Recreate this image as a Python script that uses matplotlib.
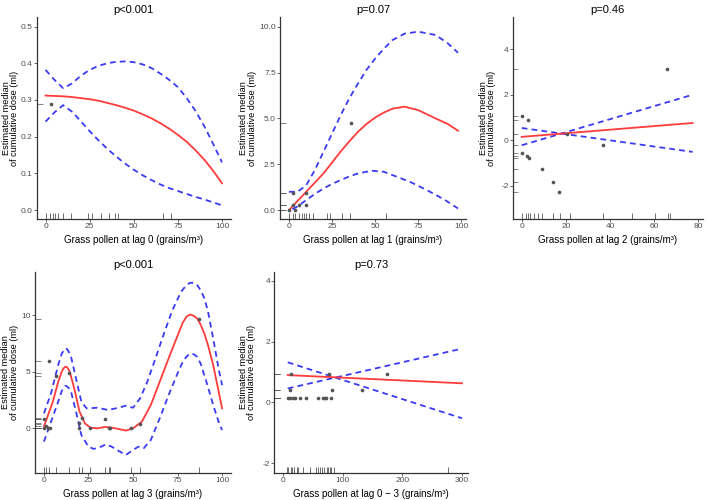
import numpy as np
import matplotlib
matplotlib.use("Agg")
import matplotlib.pyplot as plt

plt.rcParams['font.family'] = ['Liberation Sans', 'DejaVu Sans']

# ---- panel 1: lag 0 ----
lag0_x = [0, 5, 10, 15, 20, 25, 30, 35, 40, 45, 50, 55, 60, 65, 70, 75, 80, 85, 90, 95, 100]
lag0_fit = [0.312, 0.311, 0.310, 0.308, 0.305, 0.302, 0.298, 0.292, 0.286, 0.279, 0.271,
            0.261, 0.250, 0.237, 0.222, 0.205, 0.186, 0.163, 0.137, 0.107, 0.073]
lag0_up = [0.382, 0.355, 0.332, 0.345, 0.366, 0.382, 0.393, 0.400, 0.404, 0.405, 0.403,
           0.397, 0.387, 0.372, 0.355, 0.335, 0.305, 0.270, 0.228, 0.180, 0.130]
lag0_lo = [0.241, 0.266, 0.286, 0.268, 0.242, 0.215, 0.190, 0.167, 0.146, 0.127, 0.110,
           0.095, 0.082, 0.070, 0.060, 0.052, 0.044, 0.036, 0.029, 0.021, 0.013]
lag0_pts_x = [3]
lag0_pts_y = [0.288]
lag0_rug_x = [0, 2.5, 4, 5.5, 7.2, 9.7, 14.4, 24.2, 26.1, 31.2, 36.2, 39.4, 41.3, 66.3, 71.2]

# ---- panel 2: lag 1 ----
lag1_x = [0, 5, 10, 15, 20, 25, 30, 35, 40, 45, 50, 55, 60, 67, 75, 85, 92, 98]
lag1_fit = [0.0, 0.5, 1.0, 1.5, 2.0, 2.6, 3.2, 3.75, 4.27, 4.7, 5.05, 5.32, 5.53, 5.64, 5.45, 5.0, 4.7, 4.33]
lag1_up = [1.0, 1.0, 1.36, 2.18, 3.18, 4.18, 5.18, 6.1, 6.9, 7.65, 8.27, 8.8, 9.27, 9.62, 9.73, 9.55, 9.1, 8.58]
lag1_lo_x = [2, 5, 10, 15, 20, 25, 30, 35, 40, 48, 55, 60, 70, 80, 90, 98]
lag1_lo = [0.05, 0.2, 0.55, 0.88, 1.18, 1.43, 1.64, 1.84, 2.0, 2.15, 2.09, 1.91, 1.55, 1.09, 0.58, 0.09]
lag1_pts_x = [0, 2.3, 2.3, 3.5, 5.8, 10, 10, 36]
lag1_pts_y = [0.0, 0.95, 0.27, 0.0, 0.27, 0.95, 0.27, 4.76]
lag1_rug_x = [0, 2.3, 3.5, 5.8, 7.3, 8.7, 10, 11.9, 13.8, 22.1, 24, 31, 35.6, 56.2]

# ---- panel 3: lag 2 ----
lag2_x = [0, 77.4]
lag2_fit = [0.15, 0.76]
lag2_up = [-0.22, 2.0]
lag2_lo = [0.54, -0.51]
lag2_pts_x = [0, 3, 0, 2.3, 3.5, 9, 14, 17, 20.4, 36.7, 65.7]
lag2_pts_y = [1.05, 0.88, -0.58, -0.70, -0.77, -1.26, -1.82, -2.28, 0.29, -0.22, 3.12]
lag2_rug_x = [0, 2, 3, 3.8, 5.6, 7.5, 9.4, 14, 17.4, 22, 36.7, 49.8, 60.4, 66.4, 67.2]

# ---- panel 4: lag 3 ----
lag3_fit_x = [0, 5, 8, 10, 11, 12, 13, 14, 15, 17, 20, 23, 26, 30, 34, 37, 42, 46, 50, 55,
              60, 65, 70, 75, 78, 80, 82, 84, 86, 88, 90, 92, 95, 98, 100]
lag3_fit = [0.15, 2.35, 4.1, 5.0, 5.3, 5.44, 5.4, 5.15, 4.7, 3.53, 1.47, 0.44, 0.06, 0.0,
            0.12, 0.09, -0.06, -0.2, 0.0, 0.59, 2.06, 4.12, 6.18, 8.18, 9.35, 9.85, 10.05,
            9.95, 9.7, 9.15, 8.38, 7.4, 5.6, 3.3, 1.76]
lag3_up_x = [0, 4, 8, 10, 12, 13, 15, 18, 21, 24, 30, 36, 42, 46, 50, 54, 58, 62, 67, 72,
             77, 80, 82, 84, 86, 88, 90, 92, 95, 98, 100]
lag3_up = [1.32, 3.1, 5.6, 6.6, 7.06, 7.0, 6.47, 4.41, 2.35, 1.76, 1.82, 1.62, 1.82, 2.0,
           1.82, 2.65, 4.1, 5.9, 8.2, 10.4, 12.06, 12.65, 12.85, 12.85, 12.65, 12.2, 11.5,
           10.4, 7.94, 5.3, 3.82]
lag3_lo_x = [0, 4, 8, 10, 12, 13, 15, 18, 21, 25, 28, 32, 35, 38, 42, 46, 50, 53, 56, 60,
             65, 70, 75, 78, 80, 82, 84, 86, 88, 90, 92, 95, 98, 100]
lag3_lo = [-1.18, 0.59, 2.35, 3.3, 3.76, 3.7, 3.38, 1.47, -0.59, -1.62, -1.82, -1.62, -1.41,
           -1.62, -2.0, -2.35, -1.91, -1.62, -1.76, -1.03, 0.88, 2.94, 4.85, 5.9, 6.32, 6.6,
           6.55, 6.32, 5.7, 4.7, 3.7, 2.06, 0.6, -0.15]
lag3_pts_x = [0, 0, 1.3, 2.3, 3.2, 2.7, 6.6, 14.2, 19.7, 19.7, 21.6, 26, 34, 36.4, 37.3, 49, 54, 87]
lag3_pts_y = [0.0, 0.8, 0.2, 0.0, 0.0, 5.98, 4.64, 4.85, 0.44, 0.0, 0.89, 0.0, 0.8, 0.0, 0.0,
              0.0, 0.35, 9.65]
lag3_rug_x = [0, 1.3, 2.7, 6.6, 14.2, 19.7, 21.6, 26, 34, 36.4, 37.3, 49, 54, 87]

# ---- panel 5: lag 0-3 ----
lag03_x = [8, 300]
lag03_fit = [0.9, 0.63]
lag03_up = [0.46, 1.77]
lag03_lo = [1.32, -0.52]
lag03_pts_x = [12.8, 76.4, 175, 11, 82.5, 131.6, 8.4, 11, 16.7, 19.5, 27.9, 37.9, 58.6, 66.9,
               69.7, 72.5, 80.9]
lag03_pts_y = [0.93, 0.93, 0.93, 0.42, 0.42, 0.42, 0.13, 0.13, 0.13, 0.13, 0.13, 0.13, 0.13,
               0.13, 0.13, 0.13, 0.13]
lag03_rug_x = [7, 9, 13, 15, 18, 23, 25, 34, 45, 55, 58, 62, 65, 69, 73, 75, 78, 80, 85, 276]

RED = '#FF3B3B'
BLUE = '#3A3AF5'
GREY = '#4D4D4D'

W, H = 709, 500
fig = plt.figure(figsize=(7.09, 5.0), dpi=100)


def panel(rect, title, xlabel, xlim, ylim, xticks, yticks, yfmt,
          fx, fy, ux, uy, lx, ly, px, py, rug_x, lab_off=24):
    ax = fig.add_axes(rect)
    ax.plot(ux, uy, color=BLUE, lw=1.3, ls=(0, (3.2, 2.3)))
    ax.plot(lx, ly, color=BLUE, lw=1.3, ls=(0, (3.2, 2.3)))
    ax.plot(fx, fy, color=RED, lw=1.3)
    ax.scatter(px, py, s=7, color='#555555', zorder=3, linewidths=0)
    # rugs
    ax.vlines(rug_x, 0, 0.03, transform=ax.get_xaxis_transform(), color='#333333', lw=0.5)
    ax.hlines(py, 0, 0.03, transform=ax.get_yaxis_transform(), color='#555555', lw=0.5)
    ax.set_xlim(xlim)
    ax.set_ylim(ylim)
    ax.set_xticks(xticks)
    ax.set_yticks(yticks)
    ax.set_yticklabels([yfmt.format(v) for v in yticks])
    for s in ['top', 'right']:
        ax.spines[s].set_visible(False)
    for s in ['left', 'bottom']:
        ax.spines[s].set_color('#333333')
        ax.spines[s].set_linewidth(0.9)
    ax.tick_params(labelsize=6, colors=GREY, length=2, width=0.6, pad=1)
    ax.set_title(title, fontsize=8, pad=3)
    ax.set_xlabel(xlabel, fontsize=7, labelpad=3)
    ax.set_ylabel('Estimated median\nof cumulative dose (ml)', fontsize=6.6,
                  linespacing=0.9, va='center')
    ax.yaxis.set_label_coords(-lab_off / (rect[2] * W), 0.5)
    return ax


panel([0.0518, 0.5614, 0.2738, 0.4046], 'p<0.001', 'Grass pollen at lag 0 (grains/m³)',
      (-5, 105), (-0.025, 0.526), [0, 25, 50, 75, 100], [0, 0.1, 0.2, 0.3, 0.4, 0.5], '{:.1f}',
      lag0_x, lag0_fit, lag0_x, lag0_up, lag0_x, lag0_lo, lag0_pts_x, lag0_pts_y, lag0_rug_x,
      lab_off=26.5)

panel([0.3949, 0.5614, 0.2623, 0.4046], 'p=0.07', 'Grass pollen at lag 1 (grains/m³)',
      (-5.2, 102.6), (-0.5, 10.53), [0, 25, 50, 75, 100], [0, 2.5, 5, 7.5, 10], '{:.1f}',
      lag1_x, lag1_fit, lag1_x, lag1_up, lag1_lo_x, lag1_lo, lag1_pts_x, lag1_pts_y, lag1_rug_x,
      lab_off=32)

panel([0.7231, 0.5614, 0.2684, 0.404], 'p=0.46', 'Grass pollen at lag 2 (grains/m³)',
      (-4.1, 82.1), (-3.47, 5.4), [0, 20, 40, 60, 80], [-2, 0, 2, 4], '{:.0f}',
      lag2_x, lag2_fit, lag2_x, lag2_up, lag2_x, lag2_lo, lag2_pts_x, lag2_pts_y, lag2_rug_x,
      lab_off=25)

panel([0.0494, 0.0534, 0.2764, 0.4032], 'p<0.001', 'Grass pollen at lag 3 (grains/m³)',
      (-5, 105), (-3.97, 13.83), [0, 25, 50, 75, 100], [0, 5, 10], '{:.0f}',
      lag3_fit_x, lag3_fit, lag3_up_x, lag3_up, lag3_lo_x, lag3_lo, lag3_pts_x, lag3_pts_y,
      lag3_rug_x, lab_off=25)

panel([0.3869, 0.0534, 0.2732, 0.4032], 'p=0.73', 'Grass pollen at lag 0 \u2212 3 (grains/m³)',
      (-14.5, 310), (-2.33, 4.3), [0, 100, 200, 300], [-2, 0, 2, 4], '{:.0f}',
      lag03_x, lag03_fit, lag03_x, lag03_up, lag03_x, lag03_lo, lag03_pts_x, lag03_pts_y,
      lag03_rug_x, lab_off=27)

fig.savefig('out.png', dpi=100)
